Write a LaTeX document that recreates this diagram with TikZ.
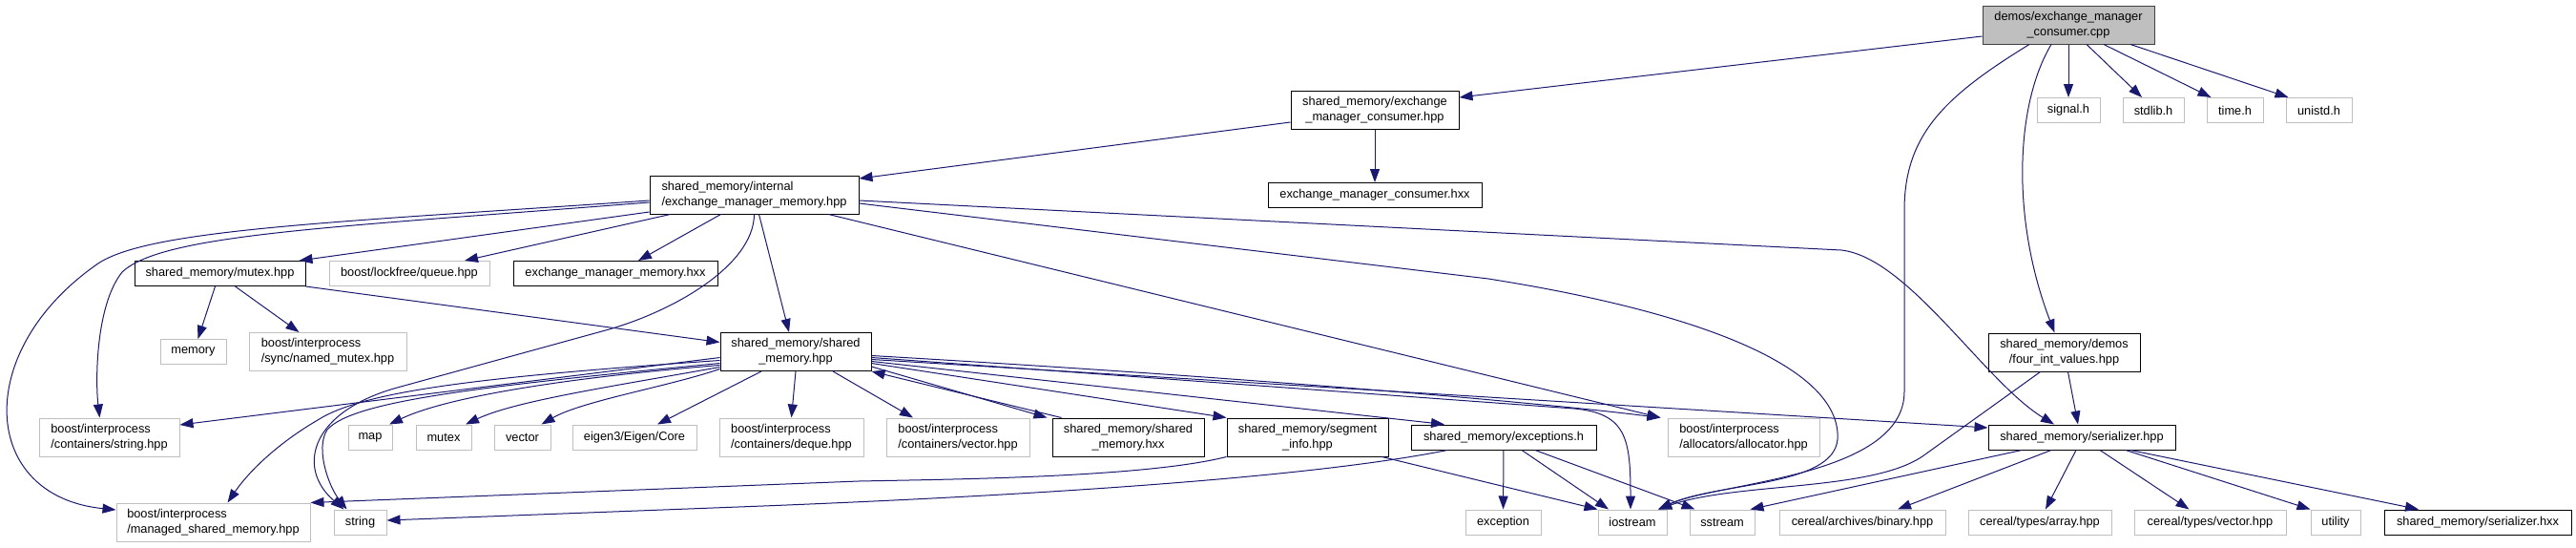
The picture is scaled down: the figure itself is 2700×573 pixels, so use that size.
\documentclass[tikz,border=0pt]{standalone}
\usepackage{fontspec}
\setmainfont{Liberation Sans}
\usepackage{tikz}
\usetikzlibrary{arrows.meta}
\definecolor{edgeBlue}{HTML}{191970}
\definecolor{extGray}{HTML}{BFBFBF}
\definecolor{srcFill}{HTML}{BFBFBF}
\definecolor{srcEdge}{HTML}{404040}
\newcommand{\boxfont}{\fontsize{12.8}{16}\selectfont}

\begin{document}
\begin{tikzpicture}[x=1pt,y=-1pt,
  docbox/.style={draw=black,fill=white,line width=1pt,inner sep=0pt,minimum height=26pt,align=center,font=\boxfont},
  extbox/.style={docbox,draw=extGray},
  srcbox/.style={docbox,fill=srcFill,draw=srcEdge},
  incl/.style={draw=edgeBlue,line width=1pt,-{Triangle[length=14pt,width=10pt]}}]
\useasboundingbox (0,0) rectangle (2700,573);
% ust satir
\node[srcbox,minimum width=180pt,minimum height=40pt] (consumercpp) at (2168,26) {demos/exchange\_manager\\\_consumer.cpp};
\node[docbox,minimum width=176pt,minimum height=40pt] (consumerhpp) at (1441,115) {shared\_memory/exchange\\\_manager\_consumer.hpp};
\node[docbox,minimum width=224pt] (consumerhxx) at (1441,204.5) {exchange\_manager\_consumer.hxx};
\node[extbox,minimum width=66pt] (signalh) at (2168,115.5) {signal.h};
\node[extbox,minimum width=64pt] (stdlibh) at (2257,115.5) {stdlib.h};
\node[extbox,minimum width=59pt] (timeh) at (2342.5,115.5) {time.h};
\node[extbox,minimum width=69pt] (unistdh) at (2430.5,115.5) {unistd.h};
% bellek katmani
\node[docbox,align=left,minimum width=219pt,minimum height=40pt] (memoryhpp) at (790.5,204) {shared\_memory/internal\\/exchange\_manager\_memory.hpp};
\node[docbox,minimum width=179pt] (mutexhpp) at (230.5,286.5) {shared\_memory/mutex.hpp};
\node[extbox,minimum width=168pt] (queuehpp) at (429,286.5) {boost/lockfree/queue.hpp};
\node[docbox,minimum width=214pt] (memoryhxx) at (645,286.5) {exchange\_manager\_memory.hxx};
\node[extbox,minimum width=69pt] (stdmemory) at (202.5,368.5) {memory};
\node[extbox,align=left,minimum width=165pt,minimum height=40pt] (namedmutex) at (343.5,368.5) {boost/interprocess\\/sync/named\_mutex.hpp};
\node[docbox,minimum width=158pt,minimum height=40pt] (sharedhpp) at (834,368.5) {shared\_memory/shared\\\_memory.hpp};
\node[docbox,minimum width=159pt,minimum height=40pt] (fourint) at (2163.5,369) {shared\_memory/demos\\/four\_int\_values.hpp};
% alt satirlar
\node[extbox,align=left,minimum width=147pt,minimum height=40pt] (ipstring) at (114.5,458) {boost/interprocess\\/containers/string.hpp};
\node[extbox,minimum width=46pt] (stdmap) at (388,458) {map};
\node[extbox,minimum width=58pt] (stdmutex) at (465,458) {mutex};
\node[extbox,minimum width=59pt] (stdvector) at (547.5,458) {vector};
\node[extbox,minimum width=130pt] (eigencore) at (665,458) {eigen3/Eigen/Core};
\node[extbox,align=left,minimum width=151pt,minimum height=40pt] (ipdeque) at (829.5,458) {boost/interprocess\\/containers/deque.hpp};
\node[extbox,align=left,minimum width=150pt,minimum height=40pt] (ipvector) at (1004,458) {boost/interprocess\\/containers/vector.hpp};
\node[docbox,minimum width=159pt,minimum height=40pt] (sharedhxx) at (1182.5,458) {shared\_memory/shared\\\_memory.hxx};
\node[docbox,minimum width=169pt,minimum height=40pt] (segmentinfo) at (1370.5,458) {shared\_memory/segment\\\_info.hpp};
\node[docbox,minimum width=194pt] (exceptionsh) at (1576,458) {shared\_memory/exceptions.h};
\node[extbox,align=left,minimum width=159pt,minimum height=40pt] (ipallocator) at (1827.5,458) {boost/interprocess\\/allocators/allocator.hpp};
\node[docbox,minimum width=196pt] (serializerhpp) at (2182,458) {shared\_memory/serializer.hpp};
\node[extbox,align=left,minimum width=203pt,minimum height=40pt] (managedshm) at (223.5,547) {boost/interprocess\\/managed\_shared\_memory.hpp};
\node[extbox,minimum width=55pt] (stdstring) at (377.5,547) {string};
\node[extbox,minimum width=79pt] (stdexception) at (1575.5,547) {exception};
\node[extbox,minimum width=72pt] (iostream) at (1711,547) {iostream};
\node[extbox,minimum width=68pt] (sstream) at (1805,547) {sstream};
\node[extbox,minimum width=174pt] (cerealbinary) at (1952,547) {cereal/archives/binary.hpp};
\node[extbox,minimum width=150pt] (cerealarray) at (2138,547) {cereal/types/array.hpp};
\node[extbox,minimum width=159pt] (cerealvector) at (2316.5,547) {cereal/types/vector.hpp};
\node[extbox,minimum width=52pt] (utility) at (2448,547) {utility};
\node[docbox,minimum width=196pt] (serializerhxx) at (2597,547) {shared\_memory/serializer.hxx};
% kaynak dosya
\draw[incl] ([yshift=-12pt]consumercpp.west) -- ([yshift=13pt]consumerhpp.east);
\draw[incl] (consumercpp.south) -- (signalh.north);
\draw[incl] ([xshift=19pt]consumercpp.south) -- ([xshift=-12pt]stdlibh.north);
\draw[incl] ([xshift=37pt]consumercpp.south) -- ([xshift=-25pt]timeh.north);
\draw[incl] ([xshift=65pt]consumercpp.south) -- ([xshift=-32pt]unistdh.north);
\draw[incl] ([xshift=-41pt]consumercpp.south) .. controls (2040,100) and (1996,140) .. (1996,220) -- (1996,410) .. controls (1996,500) and (1800,505) .. ([xshift=27pt]iostream.north);
\draw[incl] ([xshift=-18pt]consumercpp.south) .. controls (2112,110) and (2108,230) .. ([xshift=-10pt]fourint.north);
\draw[incl] ([yshift=-13pt]consumerhpp.west) -- ([yshift=17pt]memoryhpp.east);
\draw[incl] (consumerhpp) -- (consumerhxx);
% exchange_manager_memory.hpp
\draw[incl] ([yshift=-18pt]memoryhpp.west) -- ([xshift=83pt]mutexhpp.north);
\draw[incl] ([xshift=-88pt]memoryhpp.south) -- ([xshift=58pt]queuehpp.north);
\draw[incl] ([xshift=-35pt]memoryhpp.south) -- ([xshift=24pt]memoryhxx.north);
\draw[incl] ([xshift=5pt]memoryhpp.south) -- ([xshift=-7pt]sharedhpp.north);
\draw[incl] (memoryhpp.south) .. controls (790,280) and (700,329) .. (631,347) -- (420,405) .. controls (325,430) and (310,490) .. ([xshift=-17pt]stdstring.north);
\draw[incl] ([yshift=-6pt]memoryhpp.west) .. controls (350,233) and (150,240) .. (100,278) .. controls (-30,370) and (-20,520) .. ([yshift=13pt]managedshm.west);
\draw[incl] ([yshift=-8pt]memoryhpp.west) .. controls (350,238) and (170,245) .. (128,285) .. controls (100,320) and (100,400) .. ([xshift=-10pt]ipstring.north);
\draw[incl] ([xshift=78pt]memoryhpp.south) -- ([xshift=-7pt]ipallocator.north west);
\draw[incl] ([yshift=-6pt]memoryhpp.east) -- (1930,262) .. controls (2000,270) and (2080,400) .. ([xshift=-29pt]serializerhpp.north);
\draw[incl] ([yshift=-9pt]memoryhpp.east) -- (1560,292) .. controls (1800,330) and (1930,390) .. (1926,460) .. controls (1922,510) and (1800,505) .. ([xshift=27pt]iostream.north);
% mutex.hpp
\draw[incl] ([xshift=-5pt]mutexhpp.south) -- ([xshift=5pt]stdmemory.north);
\draw[incl] ([xshift=16pt]mutexhpp.south) -- ([xshift=-30pt]namedmutex.north);
\draw[incl] (mutexhpp.south east) -- ([yshift=10pt]sharedhpp.west);
% shared_memory.hpp
\draw[incl] ([yshift=-6pt]sharedhpp.west) -- ([yshift=13pt]ipstring.east);
\draw[incl] ([yshift=-9pt]sharedhpp.west) .. controls (500,395) and (380,410) .. (333,440) .. controls (290,465) and (260,495) .. ([xshift=15pt]managedshm.north);
\draw[incl] ([yshift=-12pt]sharedhpp.west) .. controls (500,405) and (370,420) .. (343,450) .. controls (330,470) and (345,510) .. ([xshift=-14pt]stdstring.north);
\draw[incl] ([yshift=-14pt]sharedhpp.west) .. controls (600,395) and (470,415) .. ([xshift=20pt]stdmap.north);
\draw[incl] ([yshift=-16pt]sharedhpp.west) .. controls (640,405) and (540,420) .. ([xshift=23pt]stdmutex.north);
\draw[incl] ([yshift=-18pt]sharedhpp.west) .. controls (700,405) and (610,420) .. ([xshift=20pt]stdvector.north);
\draw[incl] ([xshift=-36pt]sharedhpp.south) -- ([xshift=24pt]eigencore.north);
\draw[incl] (sharedhpp.south) -- (ipdeque.north);
\draw[incl] ([xshift=39pt]sharedhpp.south) -- ([xshift=-47pt]ipvector.north);
\draw[incl] ([yshift=5pt]sharedhpp.south east) -- ([xshift=-5pt]sharedhxx.north west);
\draw[incl] ([xshift=10pt]sharedhxx.north west) -- (sharedhpp.south east);
\draw[incl] ([yshift=-12pt]sharedhpp.east) -- (segmentinfo.north west);
\draw[incl] ([yshift=-10pt]sharedhpp.east) -- ([xshift=-62pt]exceptionsh.north);
\draw[incl] ([yshift=-4pt]sharedhpp.east) .. controls (1300,395) and (1600,420) .. ([xshift=-7pt]ipallocator.north west);
\draw[incl] ([yshift=-6pt]sharedhpp.east) -- (1650,428) .. controls (1705,433) and (1709,460) .. ([xshift=-2pt]iostream.north);
\draw[incl] ([yshift=-8pt]sharedhpp.east) -- ([yshift=10pt]serializerhpp.west);
% segment_info ve exceptions
\draw[incl] (segmentinfo.south west) .. controls (1200,500) and (1000,502) .. (900,504) -- (managedshm.north east);
\draw[incl] ([xshift=78pt]segmentinfo.south) -- (iostream.north west);
\draw[incl] ([xshift=-59pt]exceptionsh.south) .. controls (1350,505) and (1000,522) .. (800,530) -- ([yshift=2pt]stdstring.east);
\draw[incl] (exceptionsh) -- (stdexception);
\draw[incl] ([xshift=19pt]exceptionsh.south) -- ([xshift=-25pt]iostream.north);
\draw[incl] ([xshift=33pt]exceptionsh.south) -- ([xshift=6pt]sstream.north west);
% four_int_values ve serializer
\draw[incl] ([xshift=4pt]fourint.south) -- ([xshift=-4pt]serializerhpp.north);
\draw[incl] ([xshift=-25pt]fourint.south) -- (2015,478) .. controls (1960,515) and (1820,505) .. ([xshift=27pt]iostream.north);
\draw[incl] ([xshift=-63pt]serializerhpp.south) -- ([xshift=-5pt]sstream.north east);
\draw[incl] ([xshift=-32pt]serializerhpp.south) -- ([xshift=37pt]cerealbinary.north);
\draw[incl] ([xshift=-6pt]serializerhpp.south) -- ([xshift=6pt]cerealarray.north);
\draw[incl] ([xshift=19pt]serializerhpp.south) -- ([xshift=-22pt]cerealvector.north);
\draw[incl] ([xshift=46pt]serializerhpp.south) -- (utility.north west);
\draw[incl] ([xshift=51pt]serializerhpp.south) -- ([xshift=-62pt]serializerhxx.north);
\end{tikzpicture}
\end{document}
